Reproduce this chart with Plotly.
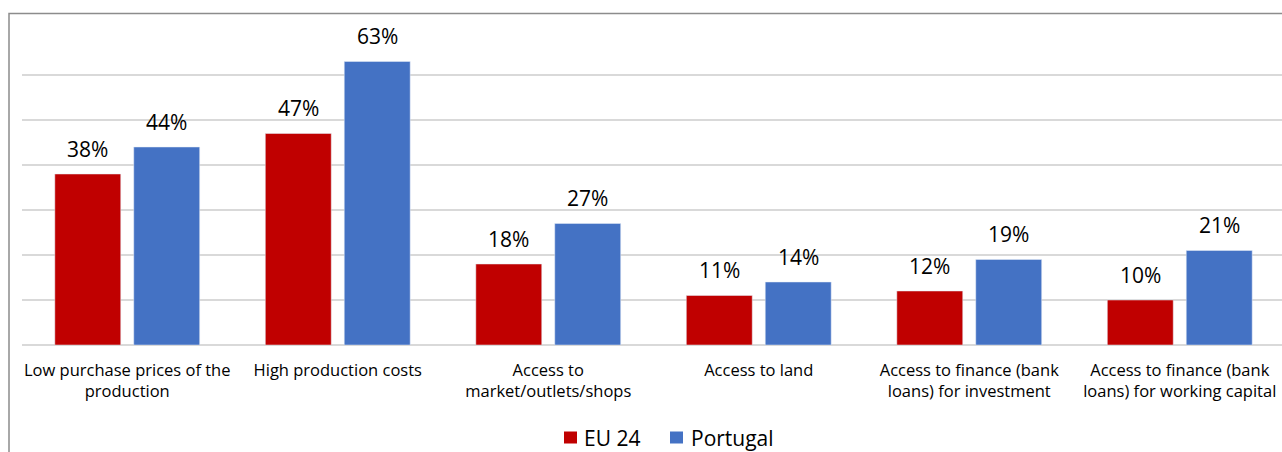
import plotly.graph_objects as go

categories = [
    "Low purchase prices of the<br>production",
    "High production costs",
    "Access to<br>market/outlets/shops",
    "Access to land",
    "Access to finance (bank<br>loans) for investment",
    "Access to finance (bank<br>loans) for working capital",
]
eu24 = [38, 47, 18, 11, 12, 10]
portugal = [44, 63, 27, 14, 19, 21]
series_names = ["EU 24", "Portugal"]

RED = "#C00000"
BLUE = "#4472C4"
GRID = "#D9D9D9"
FONT = "Open Sans"

W, H = 1282, 452
ML, MR, MT, MB = 22, 0, 30, 107
plot_w = W - ML - MR
plot_h = H - MT - MB


def px_x(x):
    return (x - ML) / plot_w


def px_y(y):
    return (H - MB - y) / plot_h


fig = go.Figure()
fig.add_trace(go.Bar(name=series_names[0], x=categories, y=eu24, marker_color=RED))
fig.add_trace(go.Bar(name=series_names[1], x=categories, y=portugal, marker_color=BLUE))

# value labels above each bar
slot_shift = 39.5
for vals, sh in ((eu24, -slot_shift), (portugal, slot_shift)):
    for c, v in zip(categories, vals):
        fig.add_annotation(
            x=c, y=v, text=f"{v}%", showarrow=False,
            xshift=sh, yanchor="bottom", yshift=9.5,
            font=dict(family=FONT, size=21, color="#000000"),
        )

# outer frame of the chart
fig.add_shape(
    type="rect", xref="paper", yref="paper",
    x0=px_x(9), x1=1.05, y0=-0.6, y1=px_y(13.5),
    line=dict(color="#8C8C8C", width=1.5), fillcolor="rgba(0,0,0,0)",
    layer="below",
)

# legend: coloured squares with their series names
for name, color, sq_x, txt_x in ((series_names[0], RED, 564, 582),
                                 (series_names[1], BLUE, 670, 689)):
    fig.add_shape(
        type="rect", xref="paper", yref="paper",
        x0=px_x(sq_x), x1=px_x(sq_x + 13), y0=px_y(443.5), y1=px_y(431.5),
        line=dict(width=0), fillcolor=color,
    )
    fig.add_annotation(
        xref="paper", yref="paper", x=px_x(txt_x), y=px_y(438),
        text=name, showarrow=False, xanchor="left", yanchor="middle",
        font=dict(family=FONT, size=21, color="#000000"),
    )

fig.update_layout(
    width=W, height=H,
    margin=dict(l=ML, r=MR, t=MT, b=MB, pad=0),
    paper_bgcolor="white", plot_bgcolor="white",
    barmode="group", bargap=0.25, bargroupgap=0.165,
    font=dict(family=FONT, size=16.5, color="#000000"),
    showlegend=False,
    xaxis=dict(
        range=[-0.5, -0.5 + plot_w / 210.5],
        showgrid=False, showline=False, zeroline=False,
        ticks="", ticklabelstandoff=13,
        tickfont=dict(family=FONT, size=16.5, color="#000000"),
    ),
    yaxis=dict(
        range=[0, 70], dtick=10, showticklabels=False,
        showgrid=True, gridcolor=GRID, gridwidth=1.5,
        zeroline=True, zerolinecolor=GRID, zerolinewidth=1.5,
        showline=False, ticks="",
    ),
)

fig.write_html("out.html")
